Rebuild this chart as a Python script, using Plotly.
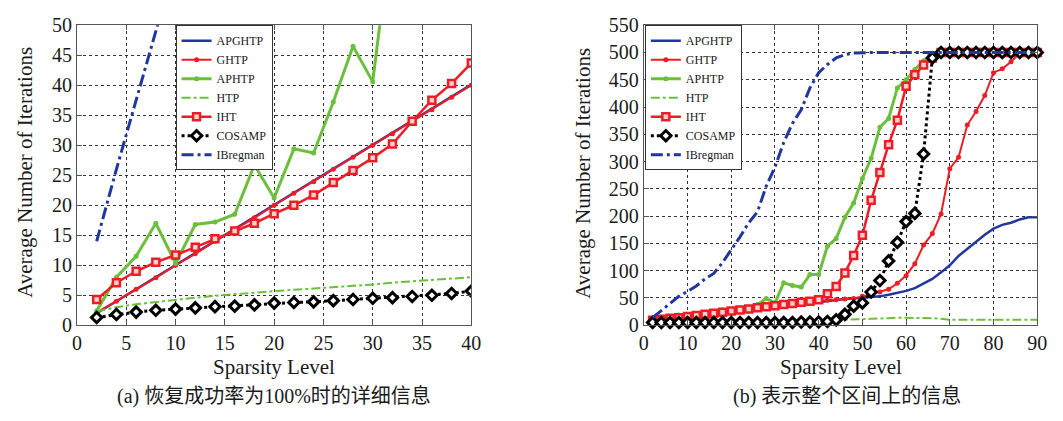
import plotly.graph_objects as go

# ---------------- data: panel (a) ----------------
x_left = [2, 4, 6, 8, 10, 12, 14, 16, 18, 20, 22, 24, 26, 28, 30, 32, 34, 36, 38, 40]
apghtp_left = [2.0, 4.0, 6.0, 8.1, 10.0, 12.1, 14.0, 16.1, 18.0, 20.1, 22.0, 24.1, 26.1, 28.0, 30.1, 32.1, 34.0, 36.1, 38.0, 40.1]
ghtp_left = [2.1, 4.0, 6.0, 7.9, 10.0, 11.9, 14.0, 15.9, 17.9, 20.0, 22.0, 23.9, 26.0, 28.0, 30.0, 31.9, 34.0, 35.9, 38.0, 40.0]
x_left_aphtp = [2, 4, 6, 8, 10, 12, 14, 16, 18, 20, 22, 24, 26, 28, 30, 32]
aphtp_left = [2.4, 8.0, 11.5, 17.0, 10.3, 16.8, 17.2, 18.5, 26.7, 21.2, 29.4, 28.7, 37.2, 46.5, 40.6, 67.0]
htp_left = [2.3, 3.0, 3.5, 3.9, 4.3, 4.6, 4.9, 5.2, 5.5, 5.7, 5.9, 6.1, 6.3, 6.6, 6.8, 7.1, 7.3, 7.5, 7.8, 8.0]
iht_left = [4.3, 7.1, 9.0, 10.5, 11.7, 13.0, 14.4, 15.7, 17.0, 18.6, 20.0, 21.7, 23.8, 25.8, 27.9, 30.2, 34.0, 37.5, 40.3, 43.7]
cosamp_left = [1.3, 1.8, 2.2, 2.5, 2.7, 2.9, 3.1, 3.2, 3.4, 3.7, 3.8, 3.9, 4.1, 4.3, 4.5, 4.6, 4.8, 5.0, 5.3, 5.7]
x_left_ibreg = [2, 4, 6, 8, 10]
ibregman_left = [14.0, 26.0, 37.5, 49.0, 60.5]

# ---------------- data: panel (b) ----------------
x_right = [2, 4, 6, 8, 10, 12, 14, 16, 18, 20, 22, 24, 26, 28, 30, 32, 34, 36, 38, 40,
           42, 44, 46, 48, 50, 52, 54, 56, 58, 60, 62, 64, 66, 68, 70, 72, 74, 76, 78, 80,
           82, 84, 86, 88, 90]
apghtp_right = [7, 9, 11, 12, 14, 16, 17, 19, 21, 23, 25, 27, 28, 30, 32, 34, 36, 38, 40, 42,
                44, 46, 48, 49, 50, 51, 53, 56, 59, 63, 68, 76, 85, 97, 110, 127, 140, 152, 166, 177,
                184, 188, 194, 198, 198]
ghtp_right = [8, 10, 12, 13, 15, 17, 18, 20, 22, 24, 26, 28, 29, 31, 33, 35, 37, 40, 42, 45,
              46, 47, 48, 49, 53, 57, 61, 66, 77, 91, 113, 147, 168, 204, 287, 308, 367, 392, 421, 463,
              470, 483, 499, 500, 500]
aphtp_right = [10, 13, 16, 19, 20, 21, 22, 24, 28, 27, 30, 33, 38, 49, 41, 78, 73, 70, 93, 93,
               145, 159, 198, 224, 269, 306, 363, 379, 435, 450, 469, 485, 495, 500, 500, 500, 500, 500, 500, 500,
               500, 500, 500, 500, 500]
htp_right = [3, 4, 5, 5, 6, 6, 6, 7, 7, 7, 7, 8, 8, 8, 8, 9, 9, 9, 9, 9,
             10, 10, 10, 11, 11, 12, 12, 13, 14, 14, 14, 13, 13, 12, 10, 10, 10, 10, 10, 10,
             10, 10, 10, 10, 10]
iht_right = [9, 11, 13, 14, 16, 18, 20, 22, 24, 26, 28, 30, 32, 34, 36, 38, 40, 42, 44, 47,
             58, 71, 96, 128, 165, 229, 280, 331, 376, 438, 459, 477, 490, 500, 500, 500, 500, 500, 500, 500,
             500, 500, 500, 500, 500]
cosamp_right = [5, 5, 5, 5, 5, 5, 5, 5, 5, 5, 5, 5, 5, 5, 5, 5, 5, 6, 6, 6,
                7, 10, 20, 35, 41, 61, 82, 118, 152, 190, 205, 314, 490, 500, 500, 500, 500, 500, 500, 500,
                500, 500, 500, 500, 500]
ibregman_right = [14, 27, 40, 53, 62, 72, 85, 95, 115, 138, 162, 188, 208, 255, 290, 335, 370, 395, 435, 463,
                  478, 490, 496, 499, 500, 500, 500, 500, 500, 500, 500, 500, 500, 500, 500, 500, 500, 500, 500, 500,
                  500, 500, 500, 500, 500]

names = ["APGHTP", "GHTP", "APHTP", "HTP", "IHT", "COSAMP", "IBregman"]

# ---------------- styles ----------------
BLUE = "#2236a0"
RED = "#ee1c24"
GREEN = "#6cbf3c"
BLACK = "#000000"
SERIF = "Liberation Serif"
CJK = "Liberation Serif, Noto Sans CJK SC"

styles = {
    "APGHTP": dict(mode="lines", line=dict(color=BLUE, width=2.5)),
    "GHTP": dict(mode="lines+markers", line=dict(color=RED, width=2),
                 marker=dict(symbol="circle", size=5, color=RED)),
    "APHTP": dict(mode="lines+markers", line=dict(color=GREEN, width=3),
                  marker=dict(symbol="circle", size=5, color=GREEN)),
    "HTP": dict(mode="lines", line=dict(color=GREEN, width=2, dash="dashdot")),
    "IHT": dict(mode="lines+markers", line=dict(color=RED, width=2.5),
                marker=dict(symbol="square", size=7, color="#fbd0d0", line=dict(color=RED, width=2.5))),
    "COSAMP": dict(mode="lines+markers", line=dict(color=BLACK, width=3, dash="dot"),
                   marker=dict(symbol="diamond", size=8, color="white", line=dict(color=BLACK, width=3))),
    "IBregman": dict(mode="lines", line=dict(color=BLUE, width=3, dash="12px,4px,3px,4px")),
}

left_data = {
    "APGHTP": (x_left, apghtp_left),
    "GHTP": (x_left, ghtp_left),
    "APHTP": (x_left_aphtp, aphtp_left),
    "HTP": (x_left, htp_left),
    "IHT": (x_left, iht_left),
    "COSAMP": (x_left, cosamp_left),
    "IBregman": (x_left_ibreg, ibregman_left),
}
right_data = {
    "APGHTP": (x_right, apghtp_right),
    "GHTP": (x_right, ghtp_right),
    "APHTP": (x_right, aphtp_right),
    "HTP": (x_right, htp_right),
    "IHT": (x_right, iht_right),
    "COSAMP": (x_right, cosamp_right),
    "IBregman": (x_right, ibregman_right),
}

fig = go.Figure()
for n in names:
    xs, ys = left_data[n]
    fig.add_trace(go.Scatter(x=xs, y=ys, name=n, xaxis="x", yaxis="y", legend="legend", **styles[n]))
for n in names:
    xs, ys = right_data[n]
    fig.add_trace(go.Scatter(x=xs, y=ys, name=n, xaxis="x2", yaxis="y2", legend="legend2",
                             cliponaxis=False, **styles[n]))

W, H = 1063, 421
def px_x(p):
    return p / W
def px_y(p):
    return 1 - p / H

axis_common = dict(
    showline=True, linecolor="#555", linewidth=1, mirror="ticks",
    ticks="inside", ticklen=5, tickcolor="#555",
    showgrid=True, gridcolor="#333", griddash="dot", gridwidth=1,
    zeroline=False, tickfont=dict(family=SERIF, size=20, color="#1a1a1a"),
)

legend_common = dict(xanchor="left", yanchor="top",
                     bgcolor="white", bordercolor="#333", borderwidth=1,
                     font=dict(family=SERIF, size=12, color="#1a1a1a"),
                     tracegroupgap=0, itemwidth=30)

y_dom = [px_y(331.6), px_y(15)]
fig.update_layout(
    width=W, height=H,
    margin=dict(l=0, r=0, t=0, b=0),
    paper_bgcolor="white", plot_bgcolor="white",
    xaxis=dict(domain=[px_x(73), px_x(473)], range=[0, 40], dtick=5, anchor="y", **axis_common),
    yaxis=dict(domain=y_dom, range=[0, 50], dtick=5, anchor="x", **axis_common),
    xaxis2=dict(domain=[px_x(648), px_x(1047)], range=[0, 90], dtick=10, anchor="y2", **axis_common),
    yaxis2=dict(domain=y_dom, range=[0, 550], dtick=50, anchor="x2", **axis_common),
    legend=dict(x=px_x(173), y=px_y(15), **legend_common),
    legend2=dict(x=px_x(649), y=px_y(15), **legend_common),
    showlegend=True,
)

ann = []
title_font = dict(family=SERIF, size=21, color="#1a1a1a")
ann.append(dict(text="Average Number of Iterations", x=px_x(20), y=px_y(170), xref="paper", yref="paper",
                textangle=-90, showarrow=False, font=title_font, xanchor="center", yanchor="middle"))
ann.append(dict(text="Average Number of Iterations", x=px_x(586), y=px_y(171), xref="paper", yref="paper",
                textangle=-90, showarrow=False, font=title_font, xanchor="center", yanchor="middle"))
ann.append(dict(text="Sparsity Level", x=px_x(273), y=px_y(376), xref="paper", yref="paper",
                showarrow=False, font=title_font, xanchor="center", yanchor="middle"))
ann.append(dict(text="Sparsity Level", x=px_x(848), y=px_y(376), xref="paper", yref="paper",
                showarrow=False, font=title_font, xanchor="center", yanchor="middle"))
cap_font = dict(family=CJK, size=20, color="#1a1a1a")
ann.append(dict(text="(a) 恢复成功率为100%时的详细信息", x=px_x(273), y=px_y(407), xref="paper", yref="paper",
                showarrow=False, font=cap_font, xanchor="center", yanchor="middle"))
ann.append(dict(text="(b) 表示整个区间上的信息", x=px_x(854), y=px_y(407), xref="paper", yref="paper",
                showarrow=False, font=cap_font, xanchor="center", yanchor="middle"))
fig.update_layout(annotations=ann)

fig.write_html("out.html")
